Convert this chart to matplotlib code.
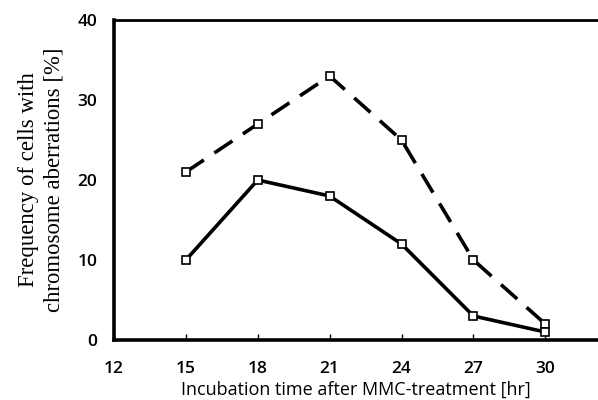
import numpy as np
import matplotlib.pyplot as plt

# incubation time [hr] and aberration frequency [%]
hours = [15, 18, 21, 24, 27, 30]
freq_dashed = [21, 27, 33, 25, 10, 2]
freq_solid = [10, 20, 18, 12, 3, 1]
xticks = [12, 15, 18, 21, 24, 27, 30]
yticks = [0, 10, 20, 30, 40]

fig = plt.figure(figsize=(5.98, 4.0), dpi=100)
ax = fig.add_axes([0.1906, 0.15, 0.8094, 0.80])

ax.plot(hours, freq_dashed, color='black', lw=2.6, dashes=(6, 3.5),
        marker='s', ms=6, mfc='white', mec='black', mew=1.2)
ax.plot(hours, freq_solid, color='black', lw=2.6,
        marker='s', ms=6, mfc='white', mec='black', mew=1.2)

ax.set_xlim(12, 32.2)
ax.set_ylim(0, 40)
ax.set_xticks(xticks)
ax.set_yticks(yticks)

ax.spines['right'].set_visible(False)
ax.spines['left'].set_linewidth(2.6)
ax.spines['bottom'].set_linewidth(2.6)
ax.spines['top'].set_linewidth(2.0)

ax.tick_params(axis='x', direction='in', length=4, width=1, pad=15)
ax.tick_params(axis='y', length=0, pad=12)
for lab in ax.get_xticklabels() + ax.get_yticklabels():
    lab.set_fontfamily('Open Sans')
    lab.set_fontsize(12.5)
    lab.set_fontweight('semibold')

ax.set_xlabel("Incubation time after MMC-treatment [hr]", fontsize=13,
              family='Open Sans', labelpad=3)
ax.set_ylabel("Frequency of cells with\nchromosome aberrations [%]",
              fontsize=16.4, family='Liberation Serif', labelpad=9,
              linespacing=1.3)

fig.savefig("out.png", dpi=100)
